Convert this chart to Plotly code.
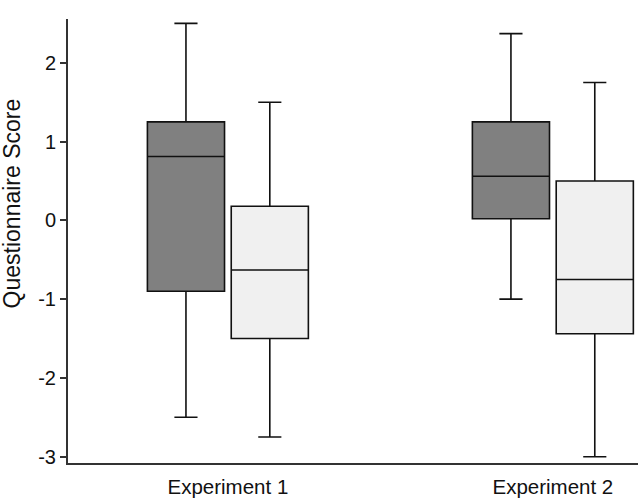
import plotly.graph_objects as go

categories = ["Experiment 1", "Experiment 2"]

# Condition A (dark boxes)
a_lower = [-2.5, -1.0]
a_q1 = [-0.9, 0.02]
a_median = [0.81, 0.56]
a_q3 = [1.25, 1.25]
a_upper = [2.5, 2.37]

# Condition B (light boxes)
b_lower = [-2.75, -3.0]
b_q1 = [-1.5, -1.44]
b_median = [-0.63, -0.75]
b_q3 = [0.18, 0.5]
b_upper = [1.5, 1.75]

y_tickvals = [-3, -2, -1, 0, 1, 2]
y_ticktext = ["-3", "-2", "-1", "0", "1", "2"]
y_title = "Questionnaire Score"

fig = go.Figure()
fig.add_trace(go.Box(
    x=categories, q1=a_q1, median=a_median, q3=a_q3,
    lowerfence=a_lower, upperfence=a_upper,
    fillcolor="#808080", line=dict(color="#111111", width=1.6),
    whiskerwidth=0.3, boxpoints=False, name="A", showlegend=False,
    hoverinfo="skip"))
fig.add_trace(go.Box(
    x=categories, q1=b_q1, median=b_median, q3=b_q3,
    lowerfence=b_lower, upperfence=b_upper,
    fillcolor="#f0f0f0", line=dict(color="#111111", width=1.6),
    whiskerwidth=0.3, boxpoints=False, name="B", showlegend=False,
    hoverinfo="skip"))

fig.update_layout(
    width=638, height=498,
    margin=dict(l=68, r=0, t=19, b=35, autoexpand=False),
    paper_bgcolor="white", plot_bgcolor="white",
    boxmode="group", boxgap=0.484, boxgroupgap=0.08,
    font=dict(family="Liberation Sans, Arial", color="#111111"),
    showlegend=False,
)
fig.add_annotation(
    text=y_title, textangle=-90, showarrow=False,
    xref="paper", yref="paper", x=-0.098, y=0.585,
    xanchor="center", yanchor="middle",
    font=dict(size=23, color="#111111"),
)
fig.update_xaxes(
    type="category", range=[-0.492, 1.262],
    showline=True, linecolor="#333333", linewidth=2,
    ticks="", showgrid=False, zeroline=False, automargin=False,
    tickfont=dict(size=20.5), ticklabelstandoff=4,
)
fig.update_yaxes(
    range=[-3.08, 2.556], tickvals=y_tickvals, ticktext=y_ticktext,
    showline=True, linecolor="#333333", linewidth=2,
    ticks="outside", ticklen=6, tickcolor="#333333", tickwidth=1.5,
    showgrid=False, zeroline=False, automargin=False,
    tickfont=dict(size=20),
)

fig.write_html("out.html")
